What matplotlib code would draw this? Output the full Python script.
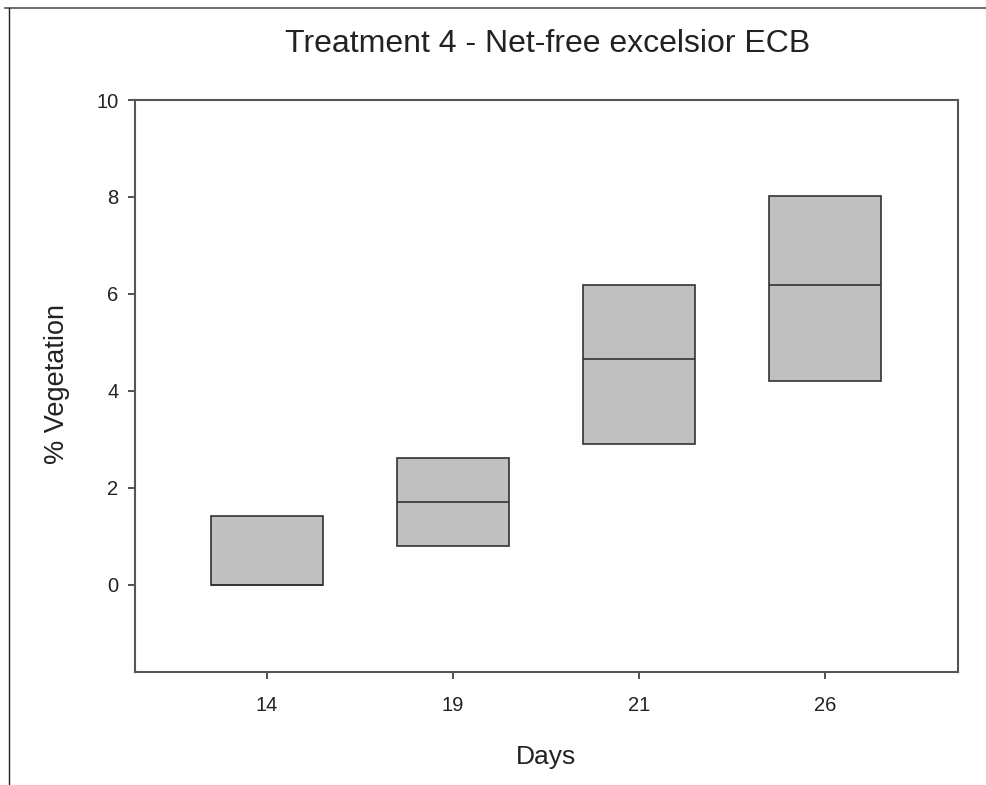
import matplotlib
matplotlib.use("Agg")
import matplotlib.pyplot as plt
from matplotlib.lines import Line2D

plt.rcParams['font.family'] = ['Liberation Sans', 'DejaVu Sans']

days = ["14", "19", "21", "26"]
q1 = [0.0, 0.8, 2.9, 4.2]
median = [0.0, 1.7, 4.65, 6.18]
q3 = [1.42, 2.62, 6.18, 8.02]

W, H = 986, 785
fig = plt.figure(figsize=(W/100, H/100), dpi=100)
ax = fig.add_axes([135/W, 1-672/H, (958-135)/W, (672-100)/H])

pos = list(range(1, len(days)+1))
heights = [b - a for a, b in zip(q1, q3)]
ax.bar(pos, heights, bottom=q1, width=0.6, color='#c0c0c0', edgecolor='#333333', linewidth=1.2)
ax.hlines(median, [p - 0.3 for p in pos], [p + 0.3 for p in pos], color='#333333', linewidth=1.2)

ax.set_xlim(0.29, 4.715)
ax.set_ylim(-1.8, 10)
ax.set_xticks(pos)
ax.set_xticklabels(days)
ax.set_yticks([0, 2, 4, 6, 8, 10])
ax.tick_params(direction='out', length=5, width=1.2, colors='#333333', labelsize=14.5, labelcolor='#222222')
ax.tick_params(axis='x', pad=12)
ax.tick_params(axis='y', pad=7)
for s in ax.spines.values():
    s.set_color('#555555')
    s.set_linewidth(1.5)

fig.text(546/W, 1-757/H, 'Days', fontsize=19, color='#222222', ha='center', va='center')
fig.text(57/W, 1-384/H, '% Vegetation', fontsize=19.5, color='#222222', ha='center', va='center', rotation=90)
fig.text(548/W, 1-44/H, 'Treatment 4 - Net-free excelsior ECB', fontsize=23, color='#222222', ha='center', va='center')

# page border lines
fig.add_artist(Line2D([5/W, 1], [1-8/H, 1-8/H], color='#555555', linewidth=1.2, transform=fig.transFigure))
fig.add_artist(Line2D([9/W, 9/W], [0, 1-8/H], color='#222222', linewidth=1.0, transform=fig.transFigure))

fig.savefig('out.png', dpi=100)
